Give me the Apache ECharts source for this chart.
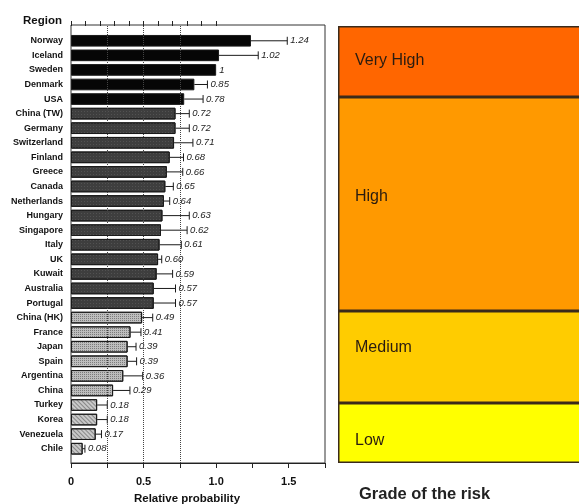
<!DOCTYPE html>
<html>
<head>
<meta charset="utf-8">
<script src="https://cdn.jsdelivr.net/npm/echarts@6/dist/echarts.min.js"></script>
<style>html,body{margin:0;padding:0;background:#fff;overflow:hidden;}#c{width:579px;height:504px;}</style>
</head>
<body>
<div id="c"></div>
<script>
// ---- data ----
const regions = ['Norway','Iceland','Sweden','Denmark','USA','China (TW)','Germany','Switzerland','Finland','Greece','Canada','Netherlands','Hungary','Singapore','Italy','UK','Kuwait','Australia','Portugal','China (HK)','France','Japan','Spain','Argentina','China','Turkey','Korea','Venezuela','Chile'];
const relProb = [1.24,1.02,1,0.85,0.78,0.72,0.72,0.71,0.68,0.66,0.65,0.64,0.63,0.62,0.61,0.60,0.59,0.57,0.57,0.49,0.41,0.39,0.39,0.36,0.29,0.18,0.18,0.17,0.08];
const upperCI = [1.49,1.29,1,0.94,0.91,0.815,0.815,0.84,0.775,0.77,0.705,0.68,0.815,0.80,0.76,0.625,0.70,0.72,0.72,0.563,0.482,0.448,0.452,0.494,0.406,0.25,0.25,0.21,0.096];
const riskGrade = ['Very High','Very High','Very High','Very High','Very High','High','High','High','High','High','High','High','High','High','High','High','High','High','High','Medium','Medium','Medium','Medium','Medium','Medium','Low','Low','Low','Low'];
const refLines = [0.25, 0.5, 0.75];
const bottomTicks = [0, 0.5, 1.0, 1.5];
const gradeNames = ['Low','Medium','High','Very High'];
const gradeBands = [60, 92, 214, 71];

// ---- styles ----
const FONT = '"Liberation Sans", Arial, Helvetica, sans-serif';
const gradeFill = {
  'Very High': {color:'#060606', decal:null},
  'High': {color:'#3e3e3e', decal:{symbol:'rect', symbolSize:1, color:'rgba(120,120,120,0.35)', dashArrayX:[1,2], dashArrayY:[1,2]}},
  'Medium': {color:'#bdbdbd', decal:{symbol:'rect', symbolSize:1, color:'rgba(60,60,60,0.5)', dashArrayX:[1,1], dashArrayY:[1,1]}},
  'Low': {color:'#c9c9c9', decal:{symbol:'rect', symbolSize:1, color:'rgba(70,70,70,0.5)', dashArrayX:[1,0], dashArrayY:[1,2], rotation:Math.PI/4}}
};
const bandColor = {'Low':'#ffff00','Medium':'#ffcc00','High':'#ff9900','Very High':'#ff6600'};
const bandLabelPos = {'Low':[17,38],'Medium':[17,37],'High':[17,100],'Very High':[17,35]};

const chart = echarts.init(document.getElementById('c'), null, {renderer:'canvas'});

const barData = relProb.map((v,i)=>{
  const g = gradeFill[riskGrade[i]];
  const it = {value:v, itemStyle:{color:g.color, borderColor:'#1a1a1a', borderWidth:1}};
  if (g.decal) it.itemStyle.decal = g.decal;
  return it;
});
const errData = relProb.map((v,i)=>[v, upperCI[i], i]);

const gradeSeries = gradeNames.map((name,i)=>({
  type:'bar', name:name, stack:'grade', xAxisIndex:3, yAxisIndex:3,
  barWidth:'100%', data:[gradeBands[i]],
  itemStyle:{color:bandColor[name], borderColor:'#3a2a1a', borderWidth:1.5},
  label:{show:true, position:bandLabelPos[name], formatter:name, fontSize:16, fontFamily:FONT, color:'#2a1c10', align:'left', verticalAlign:'middle'},
  silent:true
}));

const option = {
  animation:false,
  backgroundColor:'#fff',
  textStyle:{fontFamily:FONT},
  title:[
    {text:'Region', left:18, top:10, textStyle:{fontSize:11.5, fontWeight:'bold', color:'#111', fontFamily:FONT}},
    {text:'Relative probability', left:182, top:488, textAlign:'center', textStyle:{fontSize:11.5, fontWeight:'bold', color:'#111', fontFamily:FONT}},
    {text:'Grade of the risk', left:354, top:481, textStyle:{fontSize:16.5, fontWeight:'bold', color:'#222', fontFamily:FONT}}
  ],
  grid:[
    {left:71, right:254, top:25, bottom:41, show:true, borderColor:'#333', borderWidth:1, backgroundColor:'transparent', outerBoundsMode:'none'},
    {left:71, right:254, top:33.5, bottom:48, outerBoundsMode:'none'},
    {left:71, width:145.14, top:25, height:1, outerBoundsMode:'none'},
    {left:338, width:280, top:26, bottom:41, outerBoundsMode:'none'}
  ],
  xAxis:[
    {gridIndex:0, type:'value', min:0, max:1.75, interval:0.25, position:'bottom',
     axisLine:{show:true, lineStyle:{color:'#222', width:1}},
     axisTick:{show:true, length:5, lineStyle:{color:'#222'}},
     splitLine:{show:false},
     axisLabel:{margin:13, fontSize:11, fontWeight:'bold', color:'#111', fontFamily:FONT,
       formatter:v=>{const t=bottomTicks.find(b=>Math.abs(b-v)<1e-6); return t===undefined?'':(t===0?'0':t.toFixed(1));}}},
    {gridIndex:1, type:'value', min:0, max:1.75, show:false},
    {gridIndex:2, type:'value', min:0, max:1, interval:0.1, position:'top',
     axisLine:{show:false}, axisTick:{show:true, length:5, lineStyle:{color:'#222'}},
     axisLabel:{show:false}, splitLine:{show:false}},
    {gridIndex:3, type:'category', data:['grade'], show:false}
  ],
  yAxis:[
    {gridIndex:0, type:'value', min:0, max:1, show:false},
    {gridIndex:1, type:'category', data:regions, inverse:true,
     axisLine:{show:false}, axisTick:{show:false},
     axisLabel:{margin:8, fontSize:9, fontWeight:'bold', color:'#111', fontFamily:FONT}},
    {gridIndex:2, type:'value', show:false},
    {gridIndex:3, type:'value', min:0, max:gradeBands.reduce((a,b)=>a+b,0), show:false}
  ],
  series:[
    {type:'line', xAxisIndex:0, yAxisIndex:0, data:[], silent:true,
     markLine:{silent:true, symbol:'none', label:{show:false},
       lineStyle:{type:'dotted', color:'#444', width:1},
       data:refLines.map(v=>({xAxis:v}))}},
    {type:'bar', xAxisIndex:1, yAxisIndex:1, data:barData, barCategoryGap:'20%', z:3, silent:true},
    {type:'custom', xAxisIndex:1, yAxisIndex:1, data:errData, z:4, silent:true,
     encode:{x:[0,1], y:2},
     renderItem:function(params, api){
       const idx = api.value(2);
       const a = api.coord([api.value(0), idx]);
       const b = api.coord([api.value(1), idx]);
       const h = 4;
       const v = api.value(0);
       const txt = v===1 ? '1' : v.toFixed(2);
       const children = [];
       if (b[0]-a[0] > 0.5) {
         children.push({type:'line', shape:{x1:a[0], y1:a[1], x2:b[0], y2:b[1]}, style:{stroke:'#1a1a1a', lineWidth:1}});
         children.push({type:'line', shape:{x1:b[0], y1:b[1]-h, x2:b[0], y2:b[1]+h}, style:{stroke:'#1a1a1a', lineWidth:1}});
       }
       children.push({type:'text', style:{text:txt, x:b[0]+3, y:b[1], fill:'#222', font:'italic 9.5px '+FONT, align:'left', verticalAlign:'middle'}});
       return {type:'group', children:children};
     }},
    ...gradeSeries
  ]
};
chart.setOption(option);
</script>
</body>
</html>
